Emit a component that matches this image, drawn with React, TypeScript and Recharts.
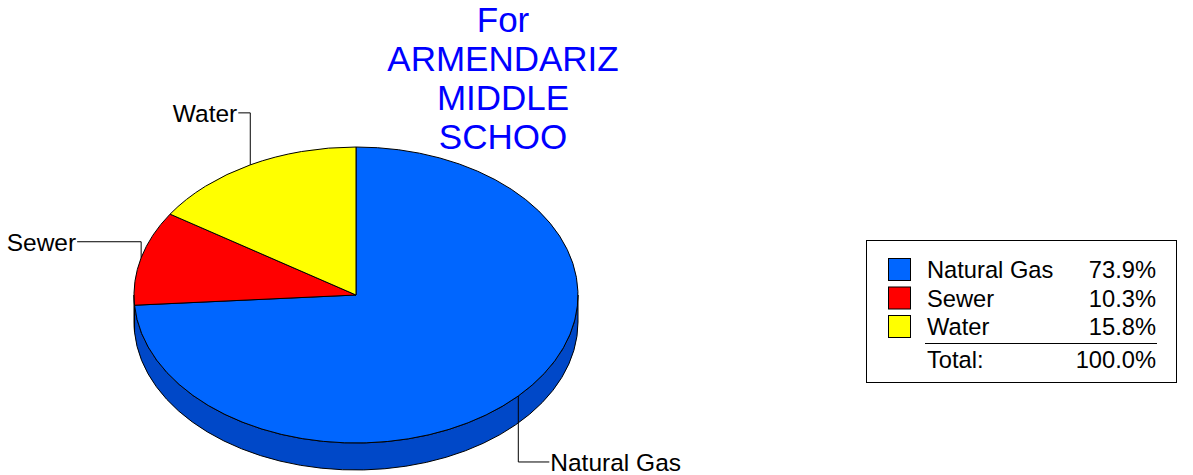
import * as React from 'react';
import { PieChart, Pie, Cell, Legend } from 'recharts';

// ============================================
// Data
// ============================================

const categories = ['Natural Gas', 'Sewer', 'Water'];
const shares = [73.9, 10.3, 15.8];
const totalLabel = '100.0%';
const titleLines = ['For', 'ARMENDARIZ', 'MIDDLE', 'SCHOO'];

const topColors = ['#0066FF', '#FF0000', '#FFFF00'];
const sideColors = ['#0048C8', '#C00000', '#C8C800'];

// leader line elbows (vertical run, horizontal run) per slice
const leaders = [
  { dy: 66, dx: 31 },
  { dy: -16, dx: -64 },
  { dy: -52, dx: -12 },
];

const data = categories.map((name, i) => ({ name, value: shares[i] }));

const W = 1193;
const H = 475;
const CX = 356;
const CY = 295;
const RX = 222;
const RATIO = 148 / 222;
const DEPTH = 27;
const FONT = 'Arial, "Liberation Sans", sans-serif';

const RAD = Math.PI / 180;

function pt(cx: number, cy: number, r: number, a: number): [number, number] {
  return [cx + r * Math.cos(a * RAD), cy - r * RATIO * Math.sin(a * RAD)];
}

// ============================================
// Slice shapes
// ============================================

function TopSlice(props: any) {
  const { cx, cy, outerRadius, startAngle, endAngle, fill } = props;
  const rx = outerRadius;
  const ry = outerRadius * RATIO;
  const [x1, y1] = pt(cx, cy, rx, startAngle);
  const [x2, y2] = pt(cx, cy, rx, endAngle);
  const large = Math.abs(endAngle - startAngle) > 180 ? 1 : 0;
  const sweep = endAngle < startAngle ? 1 : 0;
  const d = `M${cx},${cy} L${x1},${y1} A${rx},${ry} 0 ${large} ${sweep} ${x2},${y2} Z`;
  return <path d={d} fill={fill} stroke="#000" strokeWidth={1} strokeLinejoin="round" />;
}

function SideSlice(props: any) {
  const { cx, cy, outerRadius, startAngle, endAngle, fill } = props;
  const rx = outerRadius;
  const ry = outerRadius * RATIO;
  const lo = Math.min(startAngle, endAngle);
  const hi = Math.max(startAngle, endAngle);
  const parts: React.ReactNode[] = [];
  [-360, 0, 360].forEach((k) => {
    const a = Math.max(lo, -180 + k);
    const b = Math.min(hi, 0 + k);
    if (b - a > 0.01) {
      const [xb, yb] = pt(cx, cy, rx, b);
      const [xa, ya] = pt(cx, cy, rx, a);
      const d =
        `M${xb},${yb} A${rx},${ry} 0 0 1 ${xa},${ya} ` +
        `L${xa},${ya + DEPTH} A${rx},${ry} 0 0 0 ${xb},${yb + DEPTH} Z`;
      parts.push(<path key={k} d={d} fill={fill} stroke="#000" strokeWidth={1} />);
    }
  });
  return <g>{parts}</g>;
}

// ============================================
// Labels with elbow leader lines
// ============================================

function renderLabel(props: any) {
  const { cx, cy, midAngle, outerRadius, index, name } = props;
  const [x0, y0] = pt(cx, cy, outerRadius, midAngle);
  const l = leaders[index];
  const y1 = y0 + l.dy;
  const x1 = x0 + l.dx;
  return (
    <g>
      <polyline
        points={`${x0},${y0} ${x0},${y1} ${x1},${y1}`}
        fill="none"
        stroke="#000"
        strokeWidth={1}
      />
      <text
        x={l.dx > 0 ? x1 + 1 : x1 - 1}
        y={y1}
        dy="0.36em"
        textAnchor={l.dx > 0 ? 'start' : 'end'}
        fontFamily={FONT}
        fontSize={24.5}
        fill="#000"
      >
        {name}
      </text>
    </g>
  );
}

// ============================================
// Legend box
// ============================================

function LegendBox() {
  const rowY = [18, 46.5, 75];
  return (
    <svg width={311} height={143} style={{ display: 'block' }}>
      <rect x={0.5} y={0.5} width={310} height={142} fill="#fff" stroke="#000" strokeWidth={1} />
      {categories.map((c, i) => (
        <g key={c}>
          <rect x={22.5} y={rowY[i] + 0.5} width={22} height={22} fill={topColors[i]} stroke="#000" />
          <text x={61} y={rowY[i] + 20} fontFamily={FONT} fontSize={23.7} fill="#000">
            {c}
          </text>
          <text x={290} y={rowY[i] + 20} fontFamily={FONT} fontSize={23.7} fill="#000" textAnchor="end">
            {shares[i].toFixed(1)}%
          </text>
        </g>
      ))}
      <line x1={59} x2={291} y1={103.5} y2={103.5} stroke="#000" strokeWidth={1} />
      <text x={61} y={128} fontFamily={FONT} fontSize={23.7} fill="#000">
        Total:
      </text>
      <text x={290} y={128} fontFamily={FONT} fontSize={23.7} fill="#000" textAnchor="end">
        {totalLabel}
      </text>
    </svg>
  );
}

// ============================================
// App
// ============================================

export default function App() {
  return (
    <div style={{ position: 'absolute', left: 0, top: 0, width: W, height: H, background: '#fff' }}>
      <div
        style={{
          position: 'absolute',
          left: 503 - 200,
          width: 400,
          top: 0,
          textAlign: 'center',
          fontFamily: FONT,
          fontSize: 35,
          lineHeight: '39px',
          color: '#0000FF',
          zIndex: 2,
        }}
      >
        {titleLines.map((t) => (
          <div key={t}>{t}</div>
        ))}
      </div>
      <PieChart width={W} height={H} margin={{ top: 0, right: 0, bottom: 0, left: 0 }}>
        <Pie
          data={data}
          dataKey="value"
          nameKey="name"
          cx={CX}
          cy={CY}
          outerRadius={RX}
          startAngle={90}
          endAngle={-270}
          paddingAngle={0}
          shape={SideSlice}
          legendType="none"
          isAnimationActive={false}
        >
          {data.map((d, i) => (
            <Cell key={`side-${i}`} fill={sideColors[i]} />
          ))}
        </Pie>
        <Pie
          data={data}
          dataKey="value"
          nameKey="name"
          cx={CX}
          cy={CY}
          outerRadius={RX}
          startAngle={90}
          endAngle={-270}
          paddingAngle={0}
          shape={TopSlice}
          label={renderLabel}
          labelLine={false}
          isAnimationActive={false}
        >
          {data.map((d, i) => (
            <Cell key={`top-${i}`} fill={topColors[i]} />
          ))}
        </Pie>
        <Legend
          content={() => <LegendBox />}
          wrapperStyle={{ position: 'absolute', left: 866, top: 240, width: 311, height: 143 }}
        />
      </PieChart>
    </div>
  );
}
